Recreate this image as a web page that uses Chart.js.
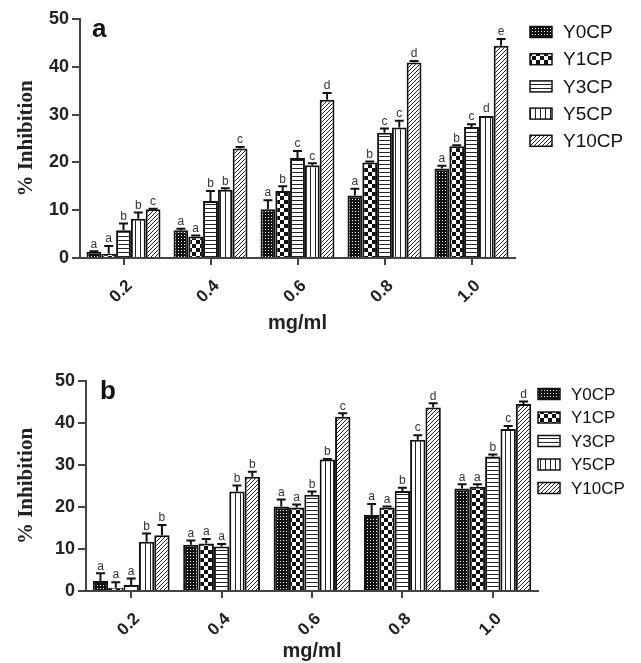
<!DOCTYPE html>
<html>
<head>
<meta charset="utf-8">
<script src="https://cdn.jsdelivr.net/npm/chart.js@4.4.1/dist/chart.umd.min.js"></script>
<style>
  body { margin: 0; background: #fff; }
  .panel { position: absolute; left: 0; width: 641px; }
  #boxA { top: 0; height: 338px; }
  #boxB { top: 338px; height: 325px; }
</style>
</head>
<body>
<div class="panel" id="boxA"><canvas id="chartA"></canvas></div>
<div class="panel" id="boxB"><canvas id="chartB"></canvas></div>
<script>
// ================= DATA =================
const categories = ['0.2', '0.4', '0.6', '0.8', '1.0'];
const seriesNames = ['Y0CP', 'Y1CP', 'Y3CP', 'Y5CP', 'Y10CP'];
const yTicks = [0, 10, 20, 30, 40, 50];

// panel a
const aY0CP = [1.3, 5.8, 10.2, 13.1, 18.7];
const aY1CP = [0.9, 4.5, 14.0, 20.0, 23.4];
const aY3CP = [5.8, 11.9, 20.9, 26.2, 27.4];
const aY5CP = [8.2, 14.3, 19.4, 27.3, 29.7];
const aY10CP = [10.2, 22.9, 33.1, 40.9, 44.4];

const aErrY0CP = [0.1, 0.3, 1.9, 1.4, 0.6];
const aErrY1CP = [1.6, 0.2, 1.0, 0.2, 0.2];
const aErrY3CP = [1.4, 2.1, 1.5, 0.9, 0.6];
const aErrY5CP = [1.3, 0.3, 0.4, 1.4, 0.0];
const aErrY10CP = [0.1, 0.3, 1.4, 0.3, 1.4];

const aSigY0CP = ['a', 'a', 'a', 'a', 'a'];
const aSigY1CP = ['a', 'a', 'b', 'b', 'b'];
const aSigY3CP = ['b', 'b', 'c', 'c', 'c'];
const aSigY5CP = ['b', 'b', 'c', 'c', 'd'];
const aSigY10CP = ['c', 'c', 'd', 'd', 'e'];

// panel b
const bY0CP = [2.4, 11.0, 20.1, 18.1, 24.4];
const bY1CP = [0.8, 11.3, 19.9, 19.9, 24.8];
const bY3CP = [1.4, 10.6, 22.9, 23.8, 32.0];
const bY5CP = [11.7, 23.7, 31.3, 36.0, 38.6];
const bY10CP = [13.3, 27.2, 41.5, 43.7, 44.5];

const bErrY0CP = [1.8, 1.0, 1.7, 2.6, 1.0];
const bErrY1CP = [1.3, 1.1, 0.7, 0.2, 0.6];
const bErrY3CP = [1.6, 0.6, 0.8, 0.8, 0.5];
const bErrY5CP = [2.0, 1.4, 0.1, 1.1, 0.7];
const bErrY10CP = [2.4, 1.2, 0.8, 1.0, 0.6];

const bSigY0CP = ['a', 'a', 'a', 'a', 'a'];
const bSigY1CP = ['a', 'a', 'a', 'a', 'a'];
const bSigY3CP = ['a', 'a', 'b', 'b', 'b'];
const bSigY5CP = ['b', 'b', 'b', 'c', 'c'];
const bSigY10CP = ['b', 'b', 'c', 'd', 'd'];

// ================= PATTERNS =================
function makePattern(kind) {
  const c = document.createElement('canvas');
  const g = c.getContext('2d');
  if (kind === 'dots') {
    c.width = 3; c.height = 3;
    g.fillStyle = '#111'; g.fillRect(0, 0, 3, 3);
    g.fillStyle = '#fff'; g.fillRect(1, 1, 1, 1);
  } else if (kind === 'checker') {
    c.width = 8; c.height = 8;
    g.fillStyle = '#111'; g.fillRect(0, 0, 8, 8);
    g.fillStyle = '#fff'; g.fillRect(0, 0, 4, 4); g.fillRect(4, 4, 4, 4);
  } else if (kind === 'hlines') {
    c.width = 4; c.height = 4;
    g.fillStyle = '#fff'; g.fillRect(0, 0, 4, 4);
    g.fillStyle = '#222'; g.fillRect(0, 0, 4, 1);
  } else if (kind === 'vlines') {
    c.width = 5; c.height = 5;
    g.fillStyle = '#fff'; g.fillRect(0, 0, 5, 5);
    g.fillStyle = '#222'; g.fillRect(0, 0, 1, 5);
  } else {
    c.width = 4; c.height = 4;
    g.fillStyle = '#fff'; g.fillRect(0, 0, 4, 4);
    g.fillStyle = '#222';
    for (let i = 0; i < 4; i++) g.fillRect(3 - i, i, 1, 1);
  }
  return g.createPattern(c, 'repeat');
}

const fills = ['dots', 'checker', 'hlines', 'vlines', 'diag'].map(makePattern);

// ================= PLUGINS =================
const errorBars = {
  id: 'errorBars',
  afterDatasetsDraw(chart) {
    const ctx = chart.ctx;
    const y = chart.scales.y;
    ctx.save();
    chart.data.datasets.forEach((ds, di) => {
      const meta = chart.getDatasetMeta(di);
      meta.data.forEach((bar, i) => {
        const top = y.getPixelForValue(ds.data[i] + ds.errors[i]);
        ctx.strokeStyle = '#111';
        ctx.lineWidth = 2;
        if (ds.errors[i] > 0) {
          ctx.beginPath();
          ctx.moveTo(bar.x, bar.y);
          ctx.lineTo(bar.x, top);
          ctx.moveTo(bar.x - 4.5, top);
          ctx.lineTo(bar.x + 4.5, top);
          ctx.stroke();
        }
        ctx.fillStyle = '#333';
        ctx.font = '12px "Liberation Sans", Arial';
        ctx.textAlign = 'center';
        ctx.textBaseline = 'bottom';
        ctx.fillText(ds.letters[i], bar.x, top - 1);
      });
    });
    ctx.restore();
  }
};

const sideLegend = {
  id: 'sideLegend',
  afterDraw(chart, args, opts) {
    const ctx = chart.ctx;
    ctx.save();
    chart.data.datasets.forEach((ds, i) => {
      const cy = opts.y + i * opts.step;
      ctx.fillStyle = ds.backgroundColor;
      ctx.fillRect(opts.x, cy - 5.5, 22, 11);
      ctx.strokeStyle = '#111';
      ctx.lineWidth = 1.5;
      ctx.strokeRect(opts.x, cy - 5.5, 22, 11);
      ctx.fillStyle = '#111';
      ctx.font = opts.fontSize + 'px "Liberation Sans", Arial';
      ctx.textAlign = 'left';
      ctx.textBaseline = 'middle';
      ctx.fillText(ds.label, opts.x + 33, cy + 1);
    });
    ctx.font = 'bold 26px "Liberation Sans", Arial';
    ctx.textAlign = 'left';
    ctx.textBaseline = 'middle';
    ctx.fillText(opts.panel, opts.panelX, opts.panelY);
    ctx.restore();
  }
};

Chart.defaults.font.family = '"Liberation Sans", Arial';
Chart.defaults.color = '#222';

// ================= CHART =================
function makeChart(id, values, errors, letters, cfg) {
  return new Chart(document.getElementById(id), {
    type: 'bar',
    data: {
      labels: categories,
      datasets: seriesNames.map((name, i) => ({
        label: name,
        data: values[i],
        errors: errors[i],
        letters: letters[i],
        backgroundColor: fills[i],
        borderColor: '#111',
        borderWidth: 2,
        barPercentage: 1,
        categoryPercentage: 0.85
      }))
    },
    options: {
      responsive: true,
      maintainAspectRatio: false,
      animation: false,
      layout: { padding: { top: cfg.top, right: cfg.right, bottom: 0, left: 0 } },
      plugins: {
        legend: { display: false },
        tooltip: { enabled: false },
        sideLegend: cfg.legend
      },
      scales: {
        x: {
          offset: true,
          grid: { offset: false, drawOnChartArea: false, drawTicks: true, tickLength: 7, color: '#444', lineWidth: 2 },
          border: { color: '#444', width: 2 },
          ticks: { font: { size: 17, weight: 'bold' }, color: '#222', minRotation: 45, maxRotation: 45, padding: 11, labelOffset: 6 },
          title: { display: true, text: 'mg/ml', font: { size: 20, weight: 'bold' }, color: '#222', padding: { top: 0, bottom: cfg.titlePad } },
          afterFit: s => { s.height = cfg.xHeight; }
        },
        y: {
          min: 0,
          max: 50,
          afterBuildTicks: s => { s.ticks = yTicks.map(v => ({ value: v })); },
          grid: { drawOnChartArea: false, drawTicks: true, tickLength: 8, color: '#444', lineWidth: 2 },
          border: { color: '#444', width: 2 },
          ticks: { font: { size: 18, weight: 'bold' }, color: '#222', padding: 3 },
          title: { display: true, text: '% Inhibition', font: { family: '"Liberation Serif", "Times New Roman", serif', size: 21, weight: 'bold' }, color: '#222', padding: { top: 14, bottom: 0 } },
          afterFit: s => { s.width = cfg.yWidth; }
        }
      }
    },
    plugins: [errorBars, sideLegend]
  });
}

makeChart('chartA',
  [aY0CP, aY1CP, aY3CP, aY5CP, aY10CP],
  [aErrY0CP, aErrY1CP, aErrY3CP, aErrY5CP, aErrY10CP],
  [aSigY0CP, aSigY1CP, aSigY3CP, aSigY5CP, aSigY10CP],
  { top: 19, right: 126, yWidth: 80, xHeight: 80, titlePad: 3,
    legend: { x: 530, y: 32, step: 27.2, fontSize: 19, panel: 'a', panelX: 92, panelY: 30 } });

makeChart('chartB',
  [bY0CP, bY1CP, bY3CP, bY5CP, bY10CP],
  [bErrY0CP, bErrY1CP, bErrY3CP, bErrY5CP, bErrY10CP],
  [bSigY0CP, bSigY1CP, bSigY3CP, bSigY5CP, bSigY10CP],
  { top: 43, right: 103, yWidth: 86, xHeight: 72, titlePad: 0,
    legend: { x: 538, y: 56, step: 23.5, fontSize: 17, panel: 'b', panelX: 100, panelY: 54 } });
</script>
</body>
</html>
